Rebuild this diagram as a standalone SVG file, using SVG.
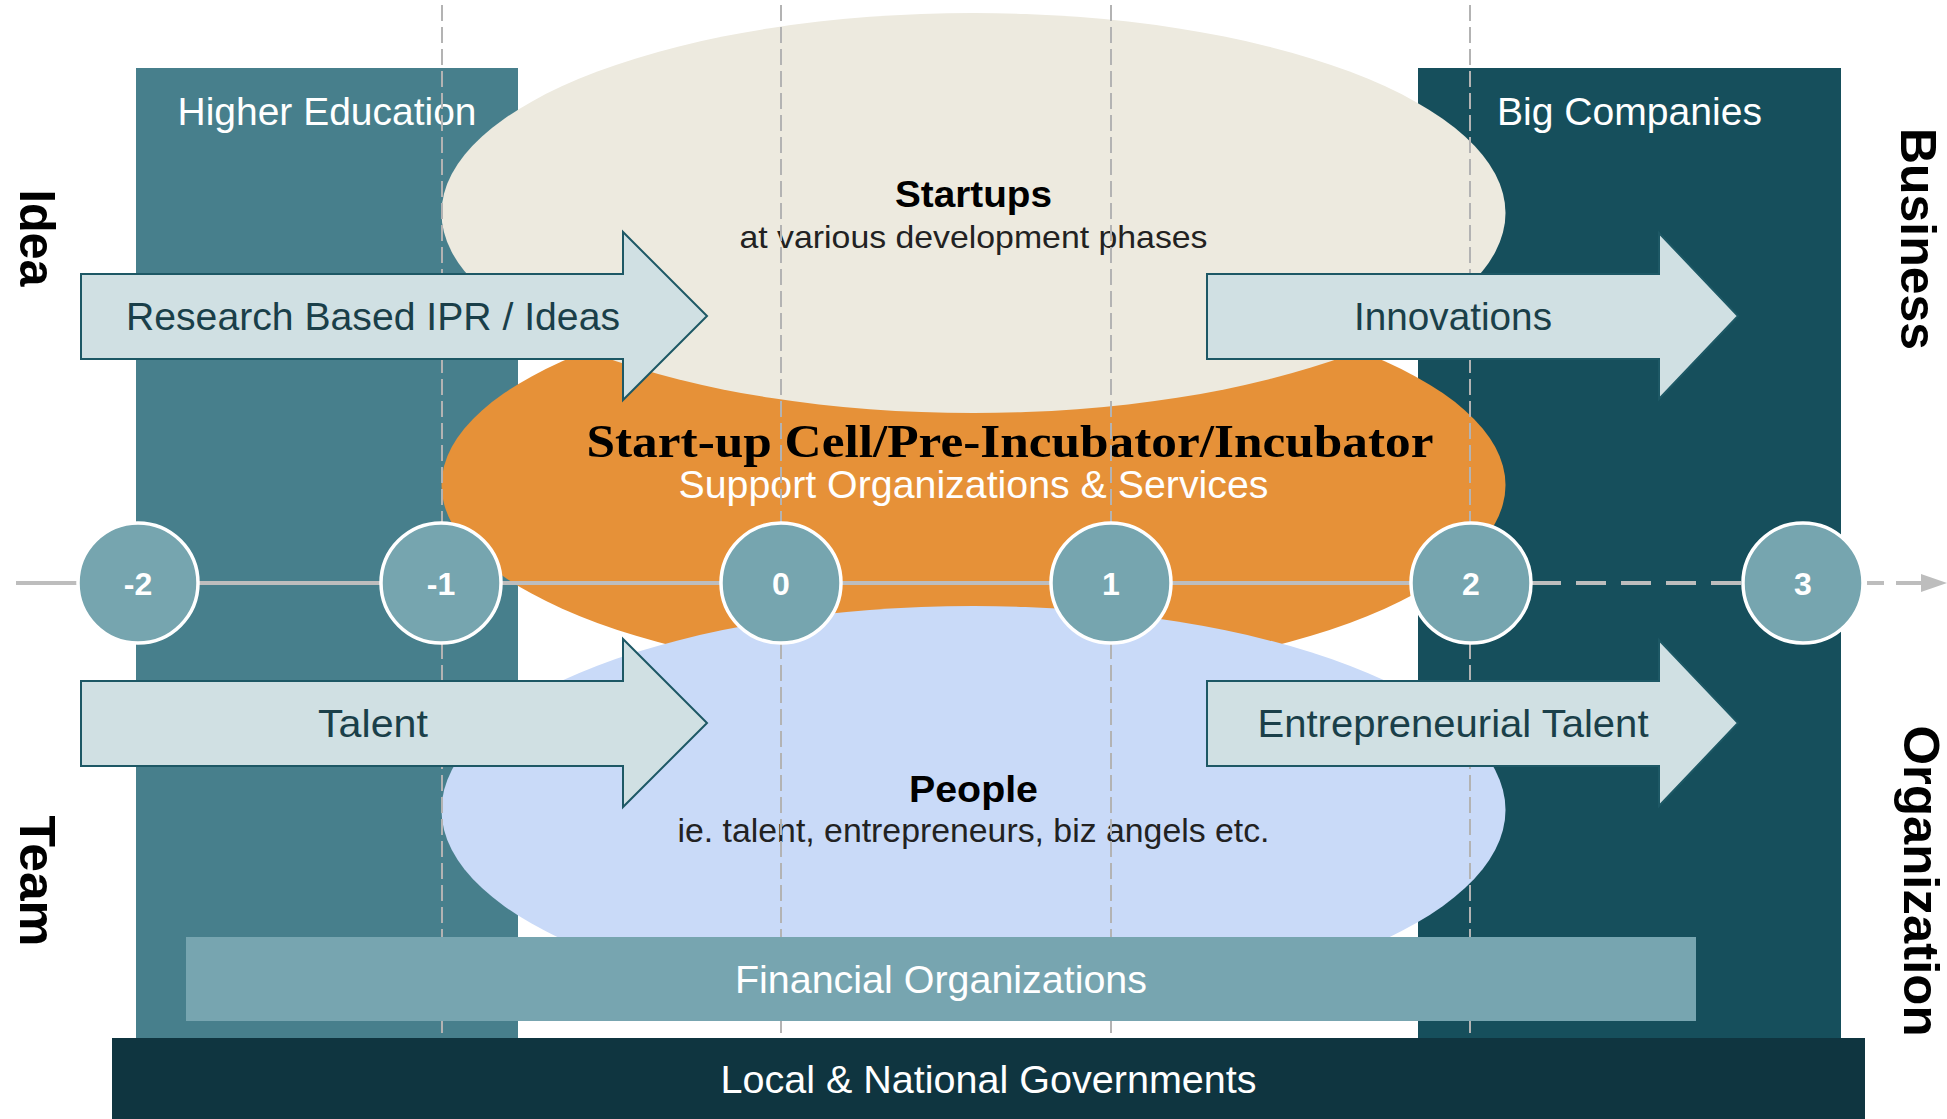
<svg xmlns="http://www.w3.org/2000/svg" width="1947" height="1119" viewBox="0 0 1947 1119">
<style>
.sans{font-family:"Liberation Sans",Arial,sans-serif}
.lbl{font-family:"Liberation Sans",Arial,sans-serif;font-size:39px;fill:#ffffff;text-anchor:middle}
.arrtxt{font-family:"Liberation Sans",Arial,sans-serif;font-size:39px;fill:#1a3f49;text-anchor:middle}
.side{font-family:"Liberation Sans",Arial,sans-serif;font-size:50px;font-weight:bold;fill:#000;text-anchor:middle}
.arrow{fill:#d0e0e3;stroke:#1d5865;stroke-width:2}
.stage{fill:#76a5af;stroke:#ffffff;stroke-width:3.5}
.num{font-family:"Liberation Sans",Arial,sans-serif;font-size:32px;font-weight:bold;fill:#ffffff;text-anchor:middle}
.vline{stroke:#b3b3b3;stroke-width:2;stroke-dasharray:16 6;fill:none}
.axis{stroke:#bdbdbd;stroke-width:4;fill:none}
</style>
<rect width="1947" height="1119" fill="#ffffff"/>

<g id="higher-education">
<rect x="136" y="68" width="382" height="970" fill="#477f8c"/>
<text class="lbl" x="327" y="125" textLength="299" lengthAdjust="spacingAndGlyphs">Higher Education</text>
</g>
<g id="big-companies">
<rect x="1418" y="68" width="423" height="970" fill="#164f5c"/>
<text class="lbl" x="1629.5" y="125" textLength="265" lengthAdjust="spacingAndGlyphs">Big Companies</text>
</g>

<g id="incubator">
<ellipse cx="973.5" cy="485" rx="532" ry="195" fill="#e69138"/>
</g>
<g id="startups">
<ellipse cx="973.5" cy="213" rx="532" ry="200" fill="#edeadf"/>
<text class="sans" x="973.5" y="207" font-size="37" font-weight="bold" fill="#000" text-anchor="middle" textLength="157" lengthAdjust="spacingAndGlyphs">Startups</text>
<text class="sans" x="973.5" y="248" font-size="32" fill="#222" text-anchor="middle" textLength="468" lengthAdjust="spacingAndGlyphs">at various development phases</text>
</g>
<g id="people">
<ellipse cx="973.5" cy="810" rx="532" ry="204" fill="#c9daf8"/>
<text class="sans" x="973.5" y="802" font-size="37" font-weight="bold" fill="#000" text-anchor="middle" textLength="129" lengthAdjust="spacingAndGlyphs">People</text>
<text class="sans" x="973.5" y="842" font-size="33" fill="#222" text-anchor="middle" textLength="592" lengthAdjust="spacingAndGlyphs">ie. talent, entrepreneurs, biz angels etc.</text>
</g>
<g id="incubator-text">
<text x="1010" y="457" font-family="'Liberation Serif','Times New Roman',serif" font-size="46" font-weight="bold" fill="#000" text-anchor="middle" textLength="847" lengthAdjust="spacingAndGlyphs">Start-up Cell/Pre-Incubator/Incubator</text>
<text class="lbl" x="973.5" y="498" font-size="38" textLength="590" lengthAdjust="spacingAndGlyphs">Support Organizations &amp; Services</text>
</g>

<g id="connectors">
<line class="vline" x1="442" y1="5" x2="442" y2="1038"/>
<line class="vline" x1="781" y1="5" x2="781" y2="1038"/>
<line class="vline" x1="1111" y1="5" x2="1111" y2="1038"/>
<line class="vline" x1="1470" y1="5" x2="1470" y2="1038"/>
<line class="axis" x1="16" y1="583" x2="1470" y2="583"/>
<line class="axis" x1="1531" y1="583" x2="1743" y2="583" stroke-dasharray="30 15"/>
<line class="axis" x1="1867" y1="583" x2="1884" y2="583"/>
<line class="axis" x1="1896" y1="583" x2="1922" y2="583"/>
<polygon points="1921,574 1947,583 1921,592" fill="#bdbdbd"/>
</g>

<g id="stage-m2"><circle class="stage" cx="138" cy="583" r="60"/><text class="num" x="138" y="595">-2</text></g>
<g id="stage-m1"><circle class="stage" cx="441" cy="583" r="60"/><text class="num" x="441" y="595">-1</text></g>
<g id="stage-0"><circle class="stage" cx="781" cy="583" r="60"/><text class="num" x="781" y="595">0</text></g>
<g id="stage-1"><circle class="stage" cx="1111" cy="583" r="60"/><text class="num" x="1111" y="595">1</text></g>
<g id="stage-2"><circle class="stage" cx="1471" cy="583" r="60"/><text class="num" x="1471" y="595">2</text></g>
<g id="stage-3"><circle class="stage" cx="1803" cy="583" r="60"/><text class="num" x="1803" y="595">3</text></g>

<g id="arrow-research">
<path class="arrow" d="M81,274 H623 V232 L707,316 L623,400 V359 H81 Z"/>
<text class="arrtxt" x="373" y="330" textLength="494" lengthAdjust="spacingAndGlyphs">Research Based IPR / Ideas</text>
</g>
<g id="arrow-innovations">
<path class="arrow" d="M1207,274 H1659 V233 L1738,316 L1659,399 V359 H1207 Z"/>
<text class="arrtxt" x="1453" y="330" textLength="198" lengthAdjust="spacingAndGlyphs">Innovations</text>
</g>
<g id="arrow-talent">
<path class="arrow" d="M81,681 H623 V639 L707,723 L623,807 V766 H81 Z"/>
<text class="arrtxt" x="373" y="737" textLength="110" lengthAdjust="spacingAndGlyphs">Talent</text>
</g>
<g id="arrow-entrepreneurial">
<path class="arrow" d="M1207,681 H1659 V640 L1738,723 L1659,806 V766 H1207 Z"/>
<text class="arrtxt" x="1453" y="737" textLength="391" lengthAdjust="spacingAndGlyphs">Entrepreneurial Talent</text>
</g>

<g id="financial">
<rect x="186" y="937" width="1510" height="84" fill="#77a5b0"/>
<text class="lbl" x="941" y="993" textLength="412" lengthAdjust="spacingAndGlyphs">Financial Organizations</text>
</g>
<g id="governments">
<rect x="112" y="1038" width="1753" height="81" fill="#0f3540"/>
<text class="lbl" x="988.5" y="1093" textLength="536" lengthAdjust="spacingAndGlyphs">Local &amp; National Governments</text>
</g>

<g id="axis-labels">
<text class="side" transform="translate(20,238) rotate(90)" textLength="97" lengthAdjust="spacingAndGlyphs">Idea</text>
<text class="side" transform="translate(20,881) rotate(90)" textLength="131" lengthAdjust="spacingAndGlyphs">Team</text>
<text class="side" transform="translate(1901,239) rotate(90)" textLength="222" lengthAdjust="spacingAndGlyphs">Business</text>
<text class="side" transform="translate(1904,881) rotate(90)" textLength="311" lengthAdjust="spacingAndGlyphs">Organization</text>
</g>
</svg>
